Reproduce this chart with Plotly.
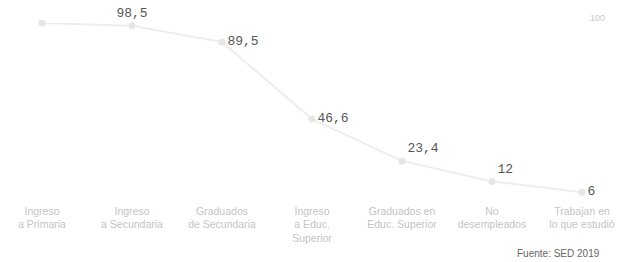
import plotly.graph_objects as go

categories = [
    "Ingreso<br>a Primaria",
    "Ingreso<br>a Secundaria",
    "Graduados<br>de Secundaria",
    "Ingreso<br>a Educ.<br>Superior",
    "Graduados en<br>Educ. Superior",
    "No<br>desempleados",
    "Trabajan en<br>lo que estudió",
]
values = [100, 98.5, 89.5, 46.6, 23.4, 12, 6]
value_labels = ["", "98,5", "89,5", "46,6", "23,4", "12", "6"]
label_positions = ["top center", "top center", "middle right", "middle right",
                   "top right", "top right", "middle right"]
source_text = "Fuente: SED 2019"

fig = go.Figure()
fig.add_trace(go.Scatter(
    x=list(range(len(categories))),
    y=values,
    mode="lines+markers+text",
    line=dict(color="#eeeeee", width=2),
    marker=dict(color="#e6e6e6", size=7),
    text=value_labels,
    textposition=label_positions,
    textfont=dict(family="Liberation Mono, DejaVu Sans Mono, monospace", size=13, color="#555555"),
    cliponaxis=False,
    hoverinfo="skip",
))

fig.update_layout(
    template="none",
    width=618, height=262,
    margin=dict(l=24, r=18, t=23, b=59, autoexpand=False),
    paper_bgcolor="white", plot_bgcolor="white",
    showlegend=False,
    xaxis=dict(
        range=[-0.2, 6.2],
        tickmode="array",
        tickvals=list(range(len(categories))),
        ticktext=categories,
        showgrid=False, zeroline=False, showline=False,
        automargin=False,
        tickfont=dict(family="Liberation Sans, Arial, sans-serif", size=10.5, color="#c4c4c4"),
        ticks="",
    ),
    yaxis=dict(
        range=[0, 100],
        showgrid=False, zeroline=False, showline=False,
        showticklabels=False, automargin=False,
    ),
    annotations=[
        dict(text="100", xref="paper", yref="paper", x=0.995, y=1.03,
             xanchor="center", yanchor="middle", showarrow=False,
             font=dict(family="Liberation Sans, Arial, sans-serif", size=9, color="#c8c8c8")),
        dict(text=source_text, xref="paper", yref="paper", x=1.004, y=-0.278,
             xanchor="right", yanchor="middle", showarrow=False,
             font=dict(family="Liberation Sans, Arial, sans-serif", size=10, color="#666666")),
    ],
)

fig.write_html("out.html", config={"displayModeBar": False},
               post_script="document.body.style.margin='0';document.body.style.overflow='hidden';")
